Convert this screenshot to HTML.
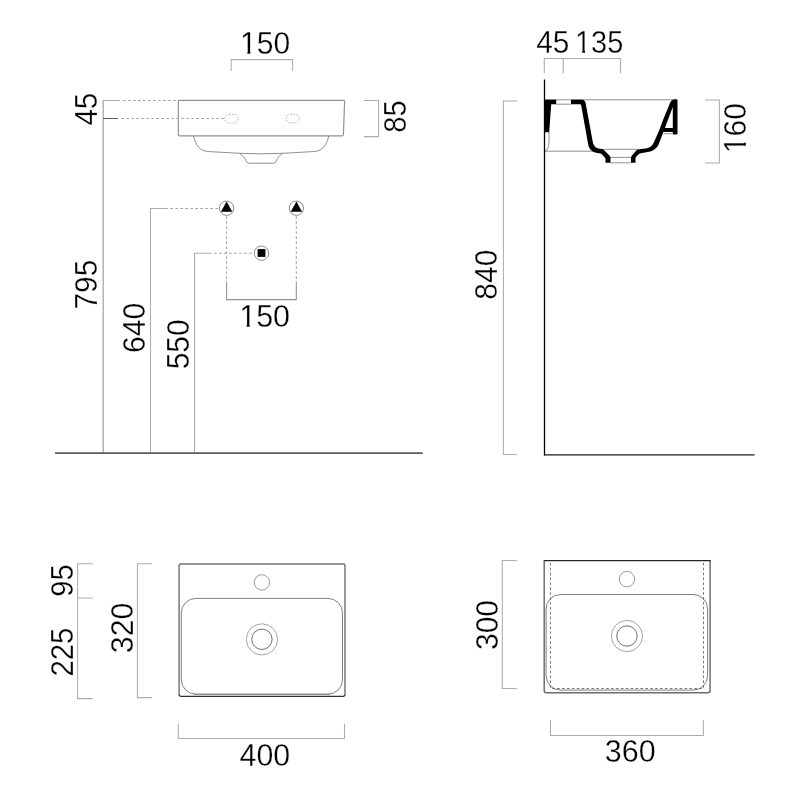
<!DOCTYPE html>
<html>
<head>
<meta charset="utf-8">
<title>Washbasin technical drawing</title>
<style>
html,body{margin:0;padding:0;background:#fff;}
body{width:800px;height:800px;overflow:hidden;font-family:"Liberation Sans",sans-serif;}
svg{display:block;filter:grayscale(1);}
text{font-family:"Liberation Sans",sans-serif;font-size:31.5px;fill:#000;stroke:#fff;stroke-width:0.3px;}
.d{stroke:#acacac;stroke-width:1.05;fill:none;}
.dd{stroke:#a6a6a6;stroke-width:1.05;fill:none;stroke-dasharray:2.7 2.3;}
.ds{stroke:#a6a6a6;stroke-width:1.05;fill:none;stroke-dasharray:2.7 2.3;}
.o{stroke:#909090;stroke-width:1;fill:none;}
.od{stroke:#a2a2a2;stroke-width:0.9;fill:none;stroke-dasharray:1.4 1.5;}
.c{stroke:#5c5c5c;stroke-width:0.7;fill:none;}
.k{fill:#000;stroke:none;}
</style>
</head>
<body>
<svg width="800" height="800" viewBox="0 0 800 800">
<rect width="800" height="800" fill="#fff"/>

<!-- ================= FRONT VIEW (top-left) ================= -->
<g id="front">
  <!-- 150 top bracket -->
  <path class="d" d="M231.2 71V59.6H292.6V71"/>

  <!-- basin front -->
  <path class="o" d="M179.5 100.4H343.4Q344.6 100.4 344.6 101.6L343.4 134.6Q343.4 135.8 342.2 135.8H179.5Q178.3 135.8 178.3 134.6V101.6Q178.3 100.4 179.5 100.4Z" style="stroke-width:1.15"/>
  <path d="M193.5 135.8C195.5 145 199.5 150.7 207.5 151.5L239.5 153.3Q261 154.4 282.7 153.3L314.8 151.5C322.8 150.7 326.8 145 328.8 135.8" stroke="#747474" stroke-width="0.8" fill="none"/>
  <path d="M239.5 153.3C243 155.6 245 158 246 160.6Q246.8 163.2 249 163.2H273.4Q275.6 163.2 276.4 160.6C277.4 158 279.3 155.6 282.7 153.3" stroke="#747474" stroke-width="0.8" fill="none"/>
  <!-- tap holes dashed -->
  <rect class="od" x="224.8" y="114.3" width="13.2" height="8.6" rx="4.3"/>
  <rect class="od" x="286.2" y="114.3" width="13.2" height="8.6" rx="4.3"/>

  <!-- 85 bracket -->
  <path class="d" d="M364 100.4H378.6V136.6H364"/>

  <!-- 45 / 795 -->
  <path d="M103.2 453V100.5" stroke="#a4a4a4" stroke-width="1.25" fill="none"/><path class="d" d="M102.6 100.5H120"/>
  <path class="ds" d="M123 100.5H178"/>
  <path d="M103 118.5H118" stroke="#5a5a5a" stroke-width="1" fill="none"/>
  <path class="ds" d="M121.2 118.5H225"/>

  <!-- 640 -->
  <path class="d" d="M150.5 453V208.5H168"/>
  <path class="dd" d="M170.3 208.5H219.4"/>

  <!-- 550 -->
  <path class="d" d="M194.5 453V253.3H211.6"/>
  <path class="dd" d="M214 253.3H254.2"/>

  <!-- supply symbols -->
  <circle class="c" cx="226.6" cy="208.2" r="7.2"/>
  <path class="k" d="M226.6 201.6L232.3 211.8H220.9Z"/>
  <circle class="c" cx="296.4" cy="208.2" r="7.2"/>
  <path class="k" d="M296.4 201.6L302.1 211.8H290.7Z"/>
  <circle class="c" cx="261.5" cy="253.2" r="7.2"/>
  <rect class="k" x="257.6" y="249.1" width="7.8" height="7.8"/>

  <!-- 150 lower bracket -->
  <path class="dd" d="M226.6 216.2V283"/>
  <path class="dd" d="M296.3 216.2V283"/>
  <path class="d" d="M226.6 283V299.6H296.3V283" style="stroke:#929292"/>

  <!-- floor -->
  <path d="M55 453.2H422.7" stroke="#5c5c5c" stroke-width="1.8" fill="none"/>
</g>

<!-- ================= SIDE SECTION (top-right) ================= -->
<g id="side">
  <path class="d" d="M544.3 73.2V58.4H620.6V73.2M563.2 58.4V73.2"/>

  <!-- 840 bracket -->
  <path class="d" d="M517.4 101H503.4V454.5H516.6"/>

  <!-- 160 bracket -->
  <path class="d" d="M705 100H719.4V163H705"/>

  <!-- thin outline lines of basin -->
  <path class="o" d="M582 99.8H673"/>
  <path class="o" d="M556 99.8H571M556 104.2H571"/>
  <path class="o" d="M549 132C549.3 140 549 145 548.2 147.5Q547.2 150.6 545 151.2H594"/>
  <path class="o" d="M602 149.3H639"/>
  <path class="o" d="M610 157.4H631M610 162.8H631"/>
  <path class="o" d="M663.4 133.7H672.8"/>

  <!-- section (black) -->
  <path class="k" d="M545 99.4H556.2V104.2H551.2L549.2 132.2H545Z"/>
  <path class="k" d="M571 99.4H581.2Q584.9 99.4 585.6 103L592.7 141.5C593.5 145.8 595.6 148.3 600 148.8L602 149Q603.3 149.2 604.2 150.2L609.6 155.8Q610.5 156.8 610.5 158V162.8H605.5V159.4Q605.5 158.3 604.8 157.5L601.5 154Q600.7 153.3 599.5 153.2C593.3 152.8 589 150.4 588.1 144L581.2 105.4Q581.1 104.2 579.9 104.2H571Z"/>
  <path class="k" fill-rule="evenodd" d="M674.2 99.3H676.6Q677.5 99.3 677.5 100.3V133.6Q677.5 134.6 676.5 134.6H673.8Q672.8 134.6 672.8 133.6V132.1H663.3L659.3 142.75C657.7 147.8 653.6 151.5 646.4 152.3L640.7 153.3Q639.5 153.5 638.8 154.2L636.3 156.6Q635.5 157.5 635.5 158.6V162.8H631V157.8Q631 156.6 631.8 155.7L636.2 150.6Q637.3 149.4 639 149.2L645.4 148.6C650 148 652.4 145.8 654.1 142L659.3 130L663.4 119L669.4 104.4C670.6 101.4 672 99.3 674.2 99.3ZM672.8 107V128H664.9Z"/>

  <!-- wall + floor -->
  <path d="M544.5 79.6V455.4" stroke="#000" stroke-width="1.3" fill="none"/>
  <path d="M544 454.9H754.5" stroke="#1a1a1a" stroke-width="1.2" fill="none"/>
</g>

<!-- ================= PLAN VIEW 400 (bottom-left) ================= -->
<g id="plan1">
  <path class="d" d="M92.6 563.7H77.6V698.6H92.6M77.6 597.9H92.6"/>
  <path class="d" d="M152 563.7H137.4V697.6H152"/>

  <path d="M179.1 694.6V565.4Q179.1 563.9 180.6 563.9H343.5Q345 563.9 345 565.4V694.6" stroke="#747474" stroke-width="1.45" fill="none"/>
  <path d="M179.1 694.2Q179.1 696.3 181.2 696.3H342.9Q345 696.3 345 694.2" stroke="#2e2e2e" stroke-width="1.2" fill="none"/>
  <rect x="181.3" y="598.4" width="161.2" height="95.8" rx="14.5" stroke="#707070" stroke-width="0.9" fill="none"/>
  <path d="M194 694.3H330" stroke="#909090" stroke-width="1.2" fill="none"/>
  <circle cx="261.9" cy="582.4" r="7.7" stroke="#707070" stroke-width="0.7" fill="none"/>
  <circle cx="261.95" cy="639.35" r="15.6" stroke="#808080" stroke-width="0.7" fill="none"/>
  <circle cx="261.95" cy="639.3" r="10.2" stroke="#606060" stroke-width="0.9" fill="none"/>

  <path class="d" d="M178.3 723.8V738.5H344.5V723.8"/>
</g>

<!-- ================= PLAN VIEW 360 (bottom-right) ================= -->
<g id="plan2">
  <path class="d" d="M516.7 560.5H502.3V688.5H516.7"/>

  <path d="M544.2 561V690.6Q544.2 692.8 546.4 692.8H707.9Q710.1 692.8 710.1 690.6V561" stroke="#6c6c6c" stroke-width="1.45" fill="none"/>
  <path d="M543.6 560.6H710.7" stroke="#262626" stroke-width="1.1" fill="none"/>
  <rect x="546.1" y="594.5" width="161.5" height="95.6" rx="14.5" stroke="#707070" stroke-width="0.9" fill="none"/>
  <path d="M550.5 562.8V688.5H703.5V562.8" stroke="#5a5a5a" stroke-width="0.8" fill="none" stroke-dasharray="2.7 2.2"/>
  <circle cx="626.9" cy="579.1" r="7.7" stroke="#707070" stroke-width="0.7" fill="none"/>
  <circle cx="626.95" cy="636.05" r="15.6" stroke="#808080" stroke-width="0.7" fill="none"/>
  <circle cx="626.95" cy="636" r="10.2" stroke="#606060" stroke-width="0.9" fill="none"/>

  <path class="d" d="M550.5 720V735.5H703.3V720"/>
</g>
<g id="labels">
<!--LABELS-START-->
<g transform="translate(265.05 54.17) scale(0.9530 1)"><text text-anchor="middle">150</text><path fill="#fff" d="M-24.68 -3.50H-18.51V0.8H-24.68ZM-15.42 -3.50H-9.50V0.8H-15.42Z"/></g>
<g transform="translate(264.62 327.02) scale(0.9683 1)"><text text-anchor="middle">150</text><path fill="#fff" d="M-24.68 -3.50H-18.51V0.8H-24.68ZM-15.42 -3.50H-9.50V0.8H-15.42Z"/></g>
<text transform="translate(552.87 53.33) scale(0.9460 1)" text-anchor="middle">45</text>
<g transform="translate(599.16 53.32) scale(0.9183 1)"><text text-anchor="middle">135</text><path fill="#fff" d="M-24.68 -3.50H-18.51V0.8H-24.68ZM-15.42 -3.50H-9.50V0.8H-15.42Z"/></g>
<text transform="translate(264.89 765.61) scale(0.9643 1)" text-anchor="middle">400</text>
<text transform="translate(630.21 762.37) scale(0.9669 1)" text-anchor="middle">360</text>
<text transform="translate(96.51 109.17) rotate(-90) scale(0.9386 1)" text-anchor="middle">45</text>
<text transform="translate(96.54 284.63) rotate(-90) scale(0.9456 1)" text-anchor="middle">795</text>
<text transform="translate(144.75 327.83) rotate(-90) scale(0.9559 1)" text-anchor="middle">640</text>
<text transform="translate(189.32 344.27) rotate(-90) scale(0.9556 1)" text-anchor="middle">550</text>
<text transform="translate(406.29 116.54) rotate(-90) scale(0.9223 1)" text-anchor="middle">85</text>
<g transform="translate(746.31 128.11) rotate(-90) scale(0.9536 1)"><text text-anchor="middle">160</text><path fill="#fff" d="M-24.68 -3.50H-18.51V0.8H-24.68ZM-15.42 -3.50H-9.50V0.8H-15.42Z"/></g>
<text transform="translate(497.44 274.65) rotate(-90) scale(0.9519 1)" text-anchor="middle">840</text>
<text transform="translate(73.07 580.58) rotate(-90) scale(0.9195 1)" text-anchor="middle">95</text>
<text transform="translate(73.04 652.07) rotate(-90) scale(0.9324 1)" text-anchor="middle">225</text>
<text transform="translate(132.66 627.97) rotate(-90) scale(0.9587 1)" text-anchor="middle">320</text>
<text transform="translate(497.98 625.01) rotate(-90) scale(0.9552 1)" text-anchor="middle">300</text>
<!--LABELS-END-->
</g>
</svg>
</body>
</html>
